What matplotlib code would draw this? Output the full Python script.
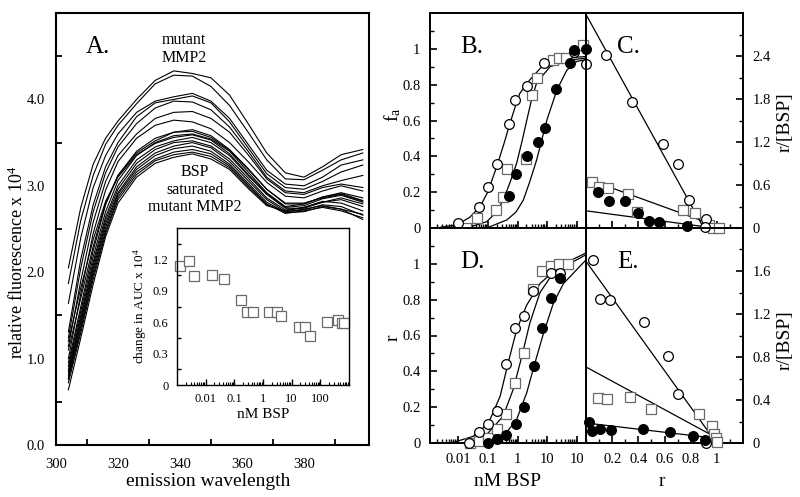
import matplotlib
matplotlib.use('Agg')
import matplotlib.pyplot as plt
from matplotlib.ticker import LogLocator, FixedLocator, NullFormatter

plt.rcParams['font.family'] = ['Liberation Serif', 'DejaVu Serif']
plt.rcParams['mathtext.fontset'] = 'custom'
plt.rcParams['mathtext.rm'] = 'Liberation Serif'
plt.rcParams['mathtext.it'] = 'Liberation Serif:italic'
plt.rcParams['xtick.direction'] = 'in'
plt.rcParams['ytick.direction'] = 'in'

# ---- panel A: emission spectra ----
wl = [304, 308, 312, 316, 320, 326, 332, 338, 344, 350, 356, 362, 368, 374, 380, 386, 392, 399]
spectra = [
    [2.05, 2.75, 3.25, 3.55, 3.75, 4.00, 4.22, 4.33, 4.30, 4.25, 4.05, 3.72, 3.38, 3.15, 3.10, 3.22, 3.36, 3.42],
    [1.87, 2.60, 3.12, 3.48, 3.70, 3.95, 4.18, 4.28, 4.27, 4.15, 3.93, 3.62, 3.30, 3.08, 3.07, 3.18, 3.30, 3.38],
    [1.64, 2.40, 2.98, 3.35, 3.60, 3.85, 3.98, 4.03, 4.07, 3.98, 3.78, 3.48, 3.18, 3.02, 3.00, 3.10, 3.24, 3.30],
    [1.31, 2.15, 2.78, 3.22, 3.50, 3.80, 3.96, 4.00, 4.04, 3.96, 3.74, 3.44, 3.14, 2.98, 2.96, 3.05, 3.16, 3.24],
    [1.24, 2.05, 2.70, 3.15, 3.45, 3.72, 3.90, 3.98, 3.97, 3.88, 3.68, 3.40, 3.10, 2.94, 2.92, 3.00, 3.06, 3.12],
    [1.14, 1.90, 2.58, 3.05, 3.35, 3.60, 3.78, 3.85, 3.86, 3.78, 3.62, 3.36, 3.08, 2.92, 2.90, 2.98, 3.02, 2.98],
    [1.00, 1.75, 2.45, 2.95, 3.28, 3.55, 3.70, 3.76, 3.74, 3.66, 3.50, 3.28, 3.04, 2.88, 2.86, 2.94, 3.00, 2.94],
    [0.95, 1.60, 2.25, 2.78, 3.12, 3.40, 3.55, 3.62, 3.65, 3.58, 3.42, 3.20, 2.96, 2.80, 2.80, 2.86, 2.90, 2.82],
    [0.91, 1.55, 2.18, 2.70, 3.06, 3.35, 3.50, 3.58, 3.60, 3.54, 3.40, 3.16, 2.92, 2.76, 2.79, 2.87, 2.92, 2.86],
    [0.87, 1.50, 2.12, 2.64, 3.00, 3.30, 3.45, 3.52, 3.56, 3.50, 3.35, 3.12, 2.90, 2.74, 2.74, 2.81, 2.84, 2.76],
    [0.84, 1.46, 2.08, 2.60, 2.96, 3.26, 3.42, 3.50, 3.52, 3.46, 3.31, 3.09, 2.86, 2.72, 2.75, 2.82, 2.80, 2.71],
    [0.81, 1.42, 2.04, 2.56, 2.92, 3.22, 3.38, 3.46, 3.50, 3.44, 3.28, 3.06, 2.84, 2.70, 2.72, 2.78, 2.76, 2.66],
    [0.78, 1.38, 2.00, 2.52, 2.90, 3.19, 3.35, 3.43, 3.46, 3.40, 3.25, 3.03, 2.81, 2.69, 2.70, 2.76, 2.73, 2.61],
    [0.76, 1.34, 1.96, 2.48, 2.87, 3.16, 3.31, 3.39, 3.42, 3.37, 3.23, 3.01, 2.79, 2.68, 2.71, 2.75, 2.71, 2.63],
    [0.72, 1.30, 1.92, 2.45, 2.84, 3.13, 3.29, 3.36, 3.39, 3.34, 3.21, 2.99, 2.78, 2.70, 2.73, 2.77, 2.73, 2.67],
    [0.64, 1.24, 1.86, 2.41, 2.80, 3.10, 3.26, 3.33, 3.37, 3.31, 3.19, 2.97, 2.77, 2.71, 2.75, 2.81, 2.86, 2.79],
    [1.20, 1.82, 2.38, 2.82, 3.10, 3.36, 3.49, 3.56, 3.59, 3.53, 3.37, 3.13, 2.91, 2.75, 2.77, 2.85, 2.89, 2.81],
    [1.10, 1.70, 2.30, 2.80, 3.12, 3.38, 3.52, 3.62, 3.63, 3.56, 3.41, 3.19, 2.96, 2.79, 2.79, 2.87, 2.91, 2.83],
]

# inset: change in AUC
auc_nm = [0.00127, 0.0026, 0.0039, 0.0166, 0.044, 0.17, 0.275, 0.45, 1.6, 3.0, 4.2, 18, 29, 43, 170, 410, 560, 670]
auc_val = [1.14, 1.18, 1.045, 1.05, 1.01, 0.81, 0.70, 0.70, 0.70, 0.70, 0.66, 0.55, 0.55, 0.47, 0.60, 0.62, 0.59, 0.59]

# ---- panel B: fa vs nM BSP ----
b_open_x = [0.01, 0.052, 0.104, 0.21, 0.51, 0.83, 2.1, 7.9, 79, 195]
b_open_y = [0.026, 0.116, 0.227, 0.356, 0.58, 0.715, 0.79, 0.92, 0.98, 0.916]
b_sq_x = [0.0186, 0.045, 0.19, 0.32, 0.46, 1.86, 3.1, 4.4, 16, 25, 41, 155]
b_sq_y = [0.0, 0.054, 0.10, 0.175, 0.33, 0.387, 0.74, 0.836, 0.94, 0.948, 0.95, 1.024]
b_fill_x = [0.52, 0.87, 2.04, 5.0, 8.4, 20, 56, 79, 200]
b_fill_y = [0.18, 0.30, 0.404, 0.48, 0.56, 0.775, 0.92, 0.994, 0.998]
b_fit_open_x = [0.0025, 0.0091, 0.025, 0.055, 0.1, 0.2, 0.35, 0.56, 0.85, 1.2, 2.6, 7.4, 35, 200]
b_fit_open_y = [0.004, 0.017, 0.06, 0.119, 0.2, 0.342, 0.47, 0.585, 0.68, 0.752, 0.827, 0.91, 0.948, 0.957]
b_fit_sq_x = [0.0196, 0.092, 0.2, 0.33, 0.55, 0.93, 1.4, 2.04, 3.0, 4.4, 12.3, 58, 200]
b_fit_sq_y = [0.0, 0.035, 0.09, 0.156, 0.25, 0.36, 0.48, 0.60, 0.72, 0.81, 0.90, 0.938, 0.948]
b_fit_fill_x = [0.092, 0.44, 0.9, 1.57, 2.6, 4.4, 9.6, 21, 45, 98, 200]
b_fit_fill_y = [0.0, 0.045, 0.09, 0.156, 0.26, 0.38, 0.60, 0.77, 0.88, 0.93, 0.94]

# ---- panel C: Scatchard ----
c_open_r = [0.15, 0.35, 0.585, 0.707, 0.79, 0.92, 0.91]
c_open_y = [2.41, 1.76, 1.17, 0.89, 0.39, 0.125, 0.01]
c_sq_r = [0.048, 0.10, 0.166, 0.32, 0.39, 0.745, 0.835, 0.94, 0.97, 1.02]
c_sq_y = [0.645, 0.57, 0.56, 0.475, 0.23, 0.25, 0.205, 0.04, 0.0, 0.0]
c_fill_r = [0.094, 0.176, 0.30, 0.40, 0.48, 0.56, 0.77]
c_fill_y = [0.50, 0.37, 0.37, 0.205, 0.10, 0.08, 0.03]
c_fit_open = ([0, 0.90], [2.98, 0.0])
c_fit_sq = ([0, 0.92], [0.69, 0.08])
c_fit_fill = ([0, 0.90], [0.24, 0.02])

# ---- panel D: r vs nM BSP ----
d_open_x = [0.024, 0.052, 0.105, 0.21, 0.41, 0.83, 1.66, 3.2, 13.4, 27]
d_open_y = [0.0, 0.06, 0.108, 0.18, 0.44, 0.64, 0.71, 0.85, 0.95, 0.95]
d_sq_x = [0.025, 0.052, 0.105, 0.21, 0.41, 0.83, 1.66, 3.4, 6.5, 13, 25, 51]
d_sq_y = [0.0, 0.01, 0.03, 0.08, 0.16, 0.335, 0.50, 0.86, 0.96, 0.99, 1.0, 1.0]
d_fill_x = [0.105, 0.21, 0.41, 0.89, 1.66, 3.6, 6.5, 13, 27]
d_fill_y = [0.0, 0.02, 0.046, 0.108, 0.20, 0.43, 0.64, 0.81, 0.92]
d_fit_open_x = [0.0069, 0.032, 0.105, 0.26, 0.49, 0.93, 2.04, 5.7, 27, 195]
d_fit_open_y = [0.003, 0.037, 0.11, 0.26, 0.45, 0.63, 0.77, 0.89, 0.99, 1.06]
d_fit_sq_x = [0.0195, 0.091, 0.33, 0.72, 1.38, 2.6, 5.7, 16, 195]
d_fit_sq_y = [0.003, 0.046, 0.15, 0.30, 0.48, 0.67, 0.84, 0.95, 1.05]
d_fit_fill_x = [0.071, 0.33, 0.93, 2.04, 3.9, 7.4, 16, 35, 195]
d_fit_fill_y = [0.0, 0.037, 0.13, 0.28, 0.45, 0.61, 0.78, 0.89, 1.02]

# ---- panel E: Scatchard ----
e_open_r = [0.056, 0.107, 0.18, 0.446, 0.63, 0.706, 0.92]
e_open_y = [1.70, 1.34, 1.33, 1.13, 0.81, 0.456, 0.0]
e_sq_r = [0.089, 0.163, 0.336, 0.50, 0.866, 0.96, 0.975, 0.99, 1.0]
e_sq_y = [0.42, 0.41, 0.43, 0.32, 0.27, 0.155, 0.085, 0.05, 0.01]
e_fill_r = [0.025, 0.043, 0.107, 0.19, 0.433, 0.64, 0.815, 0.91]
e_fill_y = [0.20, 0.108, 0.133, 0.124, 0.133, 0.10, 0.062, 0.024]
e_fit_open = ([0, 0.95], [1.69, 0.08])
e_fit_sq = ([0, 0.95], [0.707, 0.08])
e_fit_fill = ([0, 0.95], [0.186, 0.05])

W, H = 800, 497


def box(x0, y0, x1, y1):
    return [x0 / W, 1 - y1 / H, (x1 - x0) / W, (y1 - y0) / H]


def ftext(x, y, s, **kw):
    fig.text(x / W, 1 - y / H, s, **kw)


fig = plt.figure(figsize=(8, 4.97), dpi=100)

open_c = dict(ls='none', marker='o', ms=7, mfc='white', mec='black', mew=0.9, clip_on=False, zorder=4)
fill_c = dict(ls='none', marker='o', ms=7, mfc='black', mec='black', mew=0.9, clip_on=False, zorder=4)
sq = dict(ls='none', marker='s', ms=7, mfc='white', mec='#6a6a6a', mew=0.9, clip_on=False, zorder=3)
fit = dict(color='black', lw=0.9, zorder=2)

# panel A
axA = fig.add_axes(box(56, 13, 369, 445))
for s in spectra:
    axA.plot(wl, s, color='black', lw=0.8)
axA.set_xlim(300, 401)
axA.set_ylim(0, 5)
axA.set_xticks([300, 320, 340, 360, 380])
axA.set_yticks([0, 1, 2, 3, 4])
axA.set_yticklabels(['0.0', '1.0', '2.0', '3.0', '4.0'])
axA.xaxis.set_minor_locator(FixedLocator([310, 330, 350, 370, 390]))
axA.yaxis.set_minor_locator(FixedLocator([0.5, 1.5, 2.5, 3.5, 4.5]))
axA.tick_params(which='major', length=0, labelsize=10.5)
axA.tick_params(axis='x', which='major', pad=9)
axA.tick_params(axis='y', which='major', pad=8)
axA.tick_params(which='minor', length=4, width=1.3)
for sp in axA.spines.values():
    sp.set_linewidth(1.5)
ftext(17, 262, 'relative fluorescence x 10$^4$', rotation=90, ha='center', va='center', fontsize=13)
ftext(208, 481, 'emission wavelength', ha='center', va='center', fontsize=14)
ftext(86, 53, 'A.', fontsize=18, va='baseline')
ftext(184, 40, 'mutant', ha='center', va='center', fontsize=11.5)
ftext(184, 58, 'MMP2', ha='center', va='center', fontsize=11.5)
ftext(195, 172, 'BSP', ha='center', va='center', fontsize=11.5)
ftext(195, 190, 'saturated', ha='center', va='center', fontsize=11.5)
ftext(195, 207, 'mutant MMP2', ha='center', va='center', fontsize=11.5)

# inset
axI = fig.add_axes(box(177, 228, 349, 385))
axI.plot(auc_nm, auc_val, ls='none', marker='s', ms=7.5, mfc='white', mec='#6a6a6a', mew=0.9, clip_on=False)
axI.set_xscale('log')
axI.set_xlim(1e-3, 1e3)
axI.set_ylim(0, 1.5)
axI.set_xticks([0.01, 0.1, 1, 10, 100])
axI.set_xticklabels(['0.01', '0.1', '1', '10', '100'])
axI.xaxis.set_minor_locator(LogLocator(base=10, subs=range(2, 10), numticks=20))
axI.xaxis.set_minor_formatter(NullFormatter())
axI.set_yticks([0, 0.3, 0.6, 0.9, 1.2])
axI.set_yticklabels(['0', '0.3', '0.6', '0.9', '1.2'])
axI.yaxis.set_minor_locator(FixedLocator([0.15, 0.45, 0.75, 1.05, 1.35]))
axI.tick_params(axis='x', which='major', length=4, width=1, labelsize=9, pad=6)
axI.tick_params(axis='x', which='minor', length=2, width=0.8)
axI.tick_params(axis='y', which='major', length=0, labelsize=9, pad=6)
axI.tick_params(axis='y', which='minor', length=3, width=1)
for sp in axI.spines.values():
    sp.set_linewidth(1.0)
axI.set_ylabel('change in AUC x 10$^4$', fontsize=9.5, labelpad=3)
axI.set_xlabel('nM BSP', fontsize=11, labelpad=2)

# panels B-E
axB = fig.add_axes(box(430, 13, 586, 228))
axC = fig.add_axes(box(586, 13, 743, 228))
axD = fig.add_axes(box(430, 228, 586, 443))
axE = fig.add_axes(box(586, 228, 743, 443))
axC.set_facecolor('none')
axE.set_facecolor('none')

for ax in (axB, axD):
    ax.set_xscale('log')
    ax.set_xlim(0.00115, 200)
    ax.set_ylim(0, 1.2)
    ax.set_xticks([0.01, 0.1, 1, 10, 100])
    ax.xaxis.set_minor_locator(LogLocator(base=10, subs=range(2, 10), numticks=20))
    ax.xaxis.set_minor_formatter(NullFormatter())
    ax.set_yticks([0, 0.2, 0.4, 0.6, 0.8, 1.0])
    ax.set_yticklabels(['0', '0.2', '0.4', '0.6', '0.8', '1'])
    ax.yaxis.set_minor_locator(FixedLocator([0.1, 0.3, 0.5, 0.7, 0.9, 1.1]))

for ax in (axC, axE):
    ax.set_xlim(0, 1.2)
    ax.set_xticks([0.2, 0.4, 0.6, 0.8, 1.0])
    ax.set_xticklabels(['0.2', '0.4', '0.6', '0.8', '1'])
    ax.xaxis.set_minor_locator(FixedLocator([0.1, 0.3, 0.5, 0.7, 0.9, 1.1]))
    ax.yaxis.tick_right()
    ax.yaxis.set_label_position('right')

axC.set_ylim(0, 3)
axC.set_yticks([0, 0.6, 1.2, 1.8, 2.4])
axC.set_yticklabels(['0', '0.6', '1.2', '1.8', '2.4'])
axC.yaxis.set_minor_locator(FixedLocator([0.3, 0.9, 1.5, 2.1, 2.7]))
axE.set_ylim(0, 2)
axE.set_yticks([0, 0.4, 0.8, 1.2, 1.6])
axE.set_yticklabels(['0', '0.4', '0.8', '1.2', '1.6'])
axE.yaxis.set_minor_locator(FixedLocator([0.2, 0.6, 1.0, 1.4, 1.8]))

for ax in (axB, axC, axD, axE):
    ax.tick_params(which='major', length=5, width=1.2, labelsize=10.5, pad=7)
    ax.tick_params(which='minor', length=3, width=1.0)
    for sp in ax.spines.values():
        sp.set_linewidth(1.4)

axB.tick_params(axis='x', labelbottom=False)
axC.tick_params(axis='x', labelbottom=False)
axD.set_xticklabels(['0.01', '0.1', '1', '10', '10'])

# B
axB.plot(b_fit_open_x, b_fit_open_y, **fit)
axB.plot(b_fit_sq_x, b_fit_sq_y, **fit)
axB.plot(b_fit_fill_x, b_fit_fill_y, **fit)
axB.plot(b_sq_x, b_sq_y, **sq)
axB.plot(b_open_x, b_open_y, **open_c)
axB.plot(b_fill_x, b_fill_y, **fill_c)

# C
axC.plot(*c_fit_open, **fit)
axC.plot(*c_fit_sq, **fit)
axC.plot(*c_fit_fill, **fit)
axC.plot(c_sq_r, c_sq_y, **sq)
axC.plot(c_open_r, c_open_y, **open_c)
axC.plot(c_fill_r, c_fill_y, **fill_c)

# D
axD.plot(d_fit_open_x, d_fit_open_y, **fit)
axD.plot(d_fit_sq_x, d_fit_sq_y, **fit)
axD.plot(d_fit_fill_x, d_fit_fill_y, **fit)
axD.plot(d_open_x, d_open_y, **open_c)
axD.plot(d_sq_x, d_sq_y, **sq)
axD.plot(d_fill_x, d_fill_y, **fill_c)

# E
axE.plot(*e_fit_open, **fit)
axE.plot(*e_fit_sq, **fit)
axE.plot(*e_fit_fill, **fit)
axE.plot(e_open_r, e_open_y, **open_c)
axE.plot(e_sq_r, e_sq_y, **sq)
axE.plot(e_fill_r, e_fill_y, **fill_c)

ftext(460, 53, 'B.', fontsize=18, va='baseline')
ftext(617, 53, 'C.', fontsize=18, va='baseline')
ftext(460, 268, 'D.', fontsize=18, va='baseline')
ftext(617, 268, 'E.', fontsize=18, va='baseline')

ftext(393, 115, r'f$_\mathregular{a}$', rotation=90, ha='center', va='center', fontsize=14)
ftext(393, 338, 'r', rotation=90, ha='center', va='center', fontsize=14)
ftext(508, 481, 'nM BSP', ha='center', va='center', fontsize=14)
ftext(662, 481, 'r', ha='center', va='center', fontsize=14)
ftext(785, 122, 'r/[BSP]', rotation=90, ha='center', va='center', fontsize=14)
ftext(785, 340, 'r/[BSP]', rotation=90, ha='center', va='center', fontsize=14)

fig.savefig('out.png', dpi=100)
